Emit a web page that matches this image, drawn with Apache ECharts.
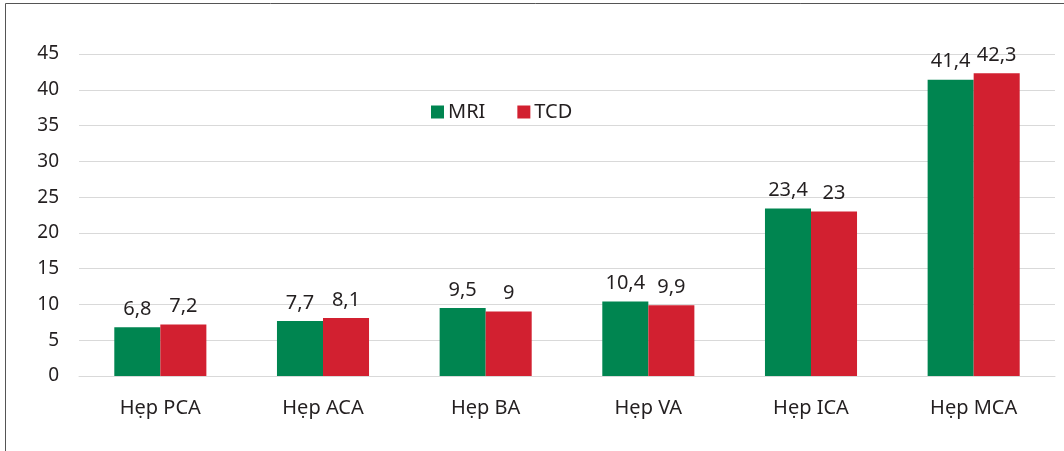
<!DOCTYPE html>
<html>
<head>
<meta charset="utf-8">
<script src="https://cdn.jsdelivr.net/npm/echarts@6/dist/echarts.min.js"></script>
<style>
  html, body { margin: 0; padding: 0; background: #fff; }
  #chart { width: 1064px; height: 451px; }
</style>
</head>
<body>
<div id="chart"></div>
<script>
var categories = ['Hẹp PCA', 'Hẹp ACA', 'Hẹp BA', 'Hẹp VA', 'Hẹp ICA', 'Hẹp MCA'];
var mriValues = [6.8, 7.7, 9.5, 10.4, 23.4, 41.4];
var tcdValues = [7.2, 8.1, 9, 9.9, 23, 42.3];
var yTicks = [0, 5, 10, 15, 20, 25, 30, 35, 40, 45];

var textColor = '#231f20';
var fontFam = '"Noto Sans", "Open Sans", sans-serif';

var chart = echarts.init(document.getElementById('chart'));

// nhãn số kiểu dấu phẩy
function commaLabel(p) {
    return String(p.value).replace('.', ',');
}

var option = {
    backgroundColor: '#fff',
    animation: false,
    graphic: [{
        type: 'rect',
        shape: { x: 5.5, y: 3.5, width: 1200, height: 600 },
        style: { fill: 'none', stroke: '#555', lineWidth: 1 },
        silent: true
    }],
    legend: {
        left: 426,
        top: 97,
        itemWidth: 13,
        itemHeight: 13,
        itemGap: 32,
        icon: 'rect',
        textStyle: { color: textColor, fontSize: 20, fontFamily: fontFam, padding: [0, 0, 0, -1] },
        data: ['MRI', 'TCD']
    },
    grid: { left: 79, right: 9, top: 54, bottom: 75 },
    xAxis: {
        type: 'category',
        data: categories,
        axisLine: { show: true, lineStyle: { color: '#d9d9d9', width: 1 } },
        axisTick: { show: false },
        axisLabel: { color: textColor, fontSize: 20, fontFamily: fontFam, margin: 22 }
    },
    yAxis: {
        type: 'value',
        min: yTicks[0],
        max: yTicks[yTicks.length - 1],
        interval: 5,
        axisLine: { show: false },
        axisTick: { show: false },
        axisLabel: { color: textColor, fontSize: 19, fontFamily: fontFam, margin: 20 },
        splitLine: { lineStyle: { color: '#d9d9d9', width: 1 } }
    },
    series: [
        {
            name: 'MRI',
            type: 'bar',
            data: mriValues,
            barWidth: '28.3%',
            barGap: '0%',
            itemStyle: { color: '#008550' },
            label: {
                show: true, position: 'top', distance: 8,
                color: textColor, fontSize: 20, fontFamily: fontFam,
                formatter: commaLabel
            }
        },
        {
            name: 'TCD',
            type: 'bar',
            data: tcdValues,
            barWidth: '28.3%',
            itemStyle: { color: '#d22030' },
            label: {
                show: true, position: 'top', distance: 8,
                color: textColor, fontSize: 20, fontFamily: fontFam,
                formatter: commaLabel
            }
        }
    ]
};
chart.setOption(option);
</script>
</body>
</html>
